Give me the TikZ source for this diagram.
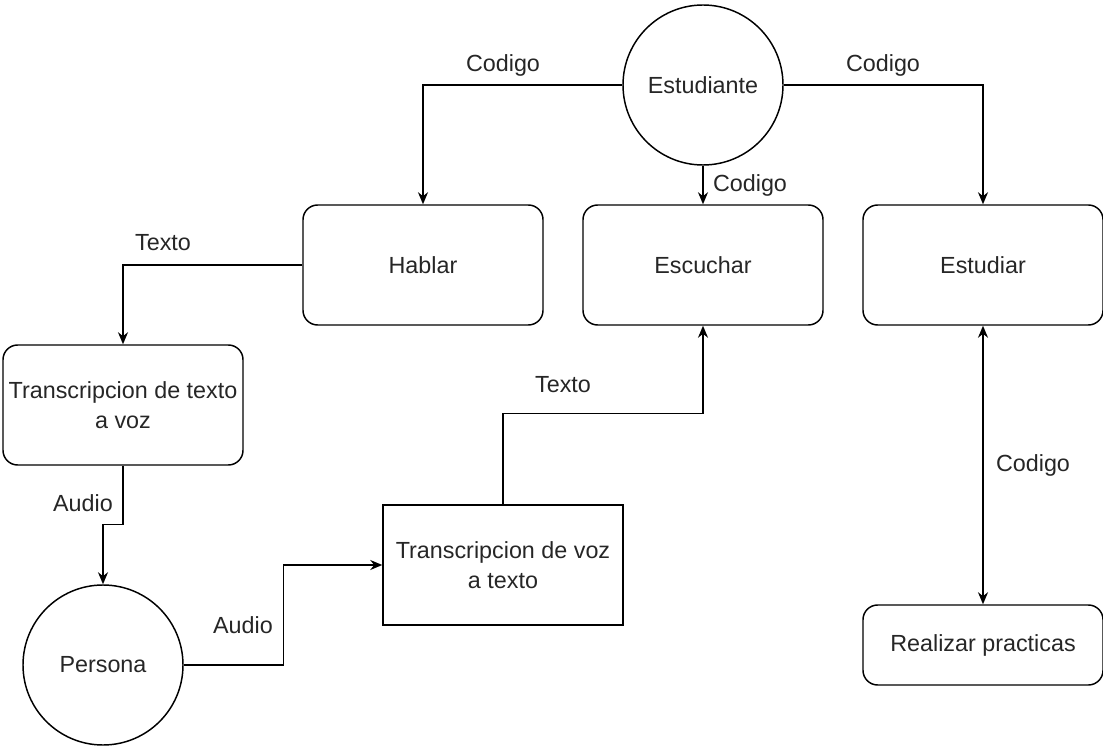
\documentclass[tikz,border=0pt]{standalone}
\usepackage{fontspec}
\setmainfont{Liberation Sans}
\usetikzlibrary{arrows.meta}

\tikzset{
  box/.style={draw,rounded corners=11pt,minimum width=180pt,minimum height=90pt,
    align=center,inner sep=0pt},
  sqbox/.style={draw,minimum width=180pt,minimum height=90pt,align=center,inner sep=0pt},
  actor/.style={draw,circle,minimum size=120pt,inner sep=0pt},
  flow/.style={-{Stealth[length=9pt,width=7.5pt]}},
  both/.style={{Stealth[length=9pt,width=7.5pt]}-{Stealth[length=9pt,width=7.5pt]}},
  lbl/.style={inner sep=0pt}
}

\begin{document}
\begin{tikzpicture}[x=0.75pt,y=-0.75pt,line width=1.1pt,
    font=\fontsize{17.5}{22.5}\selectfont,text=black!85]
  \useasboundingbox (0,0) rectangle (1103,748);

  % actors
  \node[actor] (estudiante) at (703,85) {Estudiante};
  \node[actor] (persona) at (103,665) {Persona};

  % processes
  \node[box] (hablar) at (423,265) {Hablar};
  \node[box] (escuchar) at (703,265) {Escuchar};
  \node[box] (estudiar) at (983,265) {Estudiar};
  \node[box] (textovoz) at (123,405) {Transcripcion de texto\\a voz};
  \node[sqbox] (voztexto) at (503,565) {Transcripcion de voz\\a texto};
  \node[box,minimum height=60pt] (practicas) at (983,645) {Realizar practicas};

  % flows
  \draw[flow] (estudiante.west) -| (hablar.north);
  \draw[flow] (estudiante.south) -- (escuchar.north);
  \draw[flow] (estudiante.east) -| (estudiar.north);
  \draw[flow] (hablar.west) -| (textovoz.north);
  \draw[flow] (textovoz.south) -- ++(0,59) -| (persona.north);
  \draw[flow] (persona.east) -- ++(100,0) |- (voztexto.west);
  \draw[flow] (voztexto.north) -- ++(0,-91) -| (escuchar.south);
  \draw[both] (estudiar.south) -- (practicas.north);

  % labels
  \node[lbl] (l1) at (503,65) {Codigo};
  \node[lbl] (l2) at (883,65) {Codigo};
  \node[lbl] (l3) at (750,185) {Codigo};
  \node[lbl] (l4) at (1033,465) {Codigo};
  \node[lbl] (l5) at (163,243) {Texto};
  \node[lbl] (l6) at (563,385) {Texto};
  \node[lbl] (l7) at (83,503) {Audio};
  \node[lbl] (l8) at (243,625) {Audio};
\end{tikzpicture}
\end{document}
